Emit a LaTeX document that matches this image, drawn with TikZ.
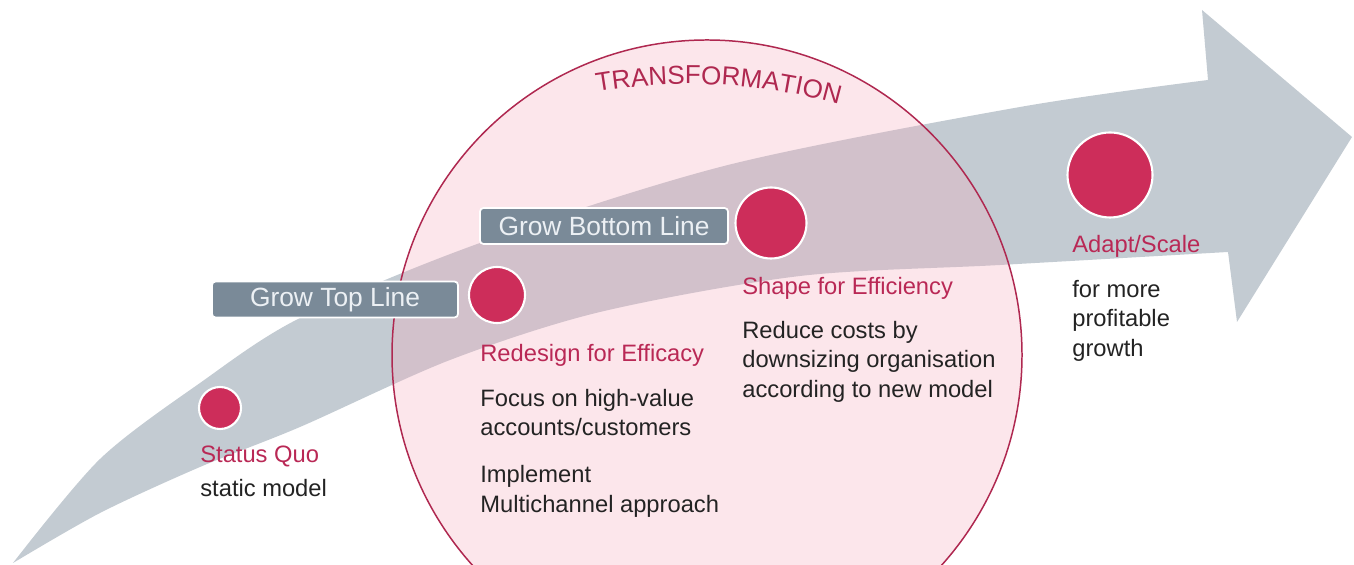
\documentclass[tikz,border=0pt]{standalone}
\usepackage{fontspec}
\setmainfont{Liberation Sans}
\usetikzlibrary{decorations.text}

\definecolor{bandgrey}{RGB}{195,203,210}
\definecolor{ringpink}{RGB}{245,172,188}
\definecolor{ringline}{RGB}{175,40,80}
\definecolor{stagered}{RGB}{205,45,90}
\definecolor{headred}{RGB}{185,40,85}
\definecolor{slate}{RGB}{122,138,152}
\definecolor{slatetext}{RGB}{236,240,244}
\definecolor{bodytext}{RGB}{35,35,35}

\tikzset{
	stage/.style={circle, fill=stagered, draw=white, line width=1.2pt, inner sep=0pt},
	growbox/.style={rectangle, rounded corners=2pt, fill=slate, draw=white, line width=1pt,
		text=slatetext, font=\fontsize{15}{18}\selectfont, minimum height=0.72cm, inner sep=0pt},
	head/.style={anchor=north west, inner sep=0pt, text=headred, font=\fontsize{13.5}{16.8}\selectfont},
	body/.style={anchor=north west, inner sep=0pt, align=left, text=bodytext, font=\fontsize{13.5}{16.8}\selectfont},
}

\begin{document}
\begin{tikzpicture}
		\useasboundingbox (0,0) rectangle (27.08,11.3);
		\clip (0,0) rectangle (27.08,11.3);
		
		% Draw the growth arrow
		\fill[bandgrey] (0.26,0.04)
			-- plot[smooth] coordinates {(0.26,0.04) (2.0,2.12) (4.0,3.64) (6.0,4.94) (9.6,6.44) (14.56,8.0) (20.4,9.16) (24.16,9.7)}
			-- (24.04,11.1) -- (27.04,8.56) -- (24.74,4.86) -- (24.56,6.26)
			-- plot[smooth] coordinates {(24.56,6.26) (20.0,6.0) (16.0,5.78) (12.0,5.06) (9.0,4.1) (6.0,2.76) (4.0,1.96) (2.0,1.04) (0.26,0.04)}
			-- cycle;
		
		% Draw the transformation circle
		\fill[ringpink, fill opacity=0.3] (14.14,4.2) circle (6.3);
		\draw[ringline, line width=0.85pt] (14.14,4.2) circle (6.3);
		\path[decorate, decoration={text along path, text align=center,
			text={|\fontsize{14.8}{16}\selectfont\color{ringline}|TRANSFORMATION}}]
			(13.8,-1.38) ++(107:11) arc[start angle=107, end angle=67, radius=11];
		
		% Growth boxes
		\node[growbox, minimum width=4.92cm] (gtl) at (6.7,5.31) {Grow Top Line};
		\node[growbox, minimum width=4.96cm] (gbl) at (12.08,6.78) {Grow Bottom Line};
		
		% Stages
		\node[stage, minimum size=0.84cm] (sq) at (4.4,3.14) {};
		\node[stage, minimum size=1.12cm] (rd) at (9.94,5.4) {};
		\node[stage, minimum size=1.42cm] (sf) at (15.42,6.84) {};
		\node[stage, minimum size=1.7cm] (as) at (22.2,7.8) {};
		
		% Labels for stages
		\node[head] (sqh) at (4.0,2.38) {Status Quo};
		\node[body] (sqb) at (4.0,1.73) {static model};
		\node[head] (rdh) at (9.6,4.43) {Redesign for Efficacy};
		\node[body] (rdb) at (9.6,3.53) {Focus on high-value\\accounts/customers\\[10pt]Implement\\Multichannel approach};
		\node[head] (sfh) at (14.84,5.77) {Shape for Efficiency};
		\node[body] (sfb) at (14.84,4.89) {Reduce costs by\\downsizing organisation\\according to new model};
		\node[head] (ash) at (21.44,6.61) {Adapt/Scale};
		\node[body] (asb) at (21.44,5.71) {for more\\profitable\\growth};
\end{tikzpicture}
\end{document}
